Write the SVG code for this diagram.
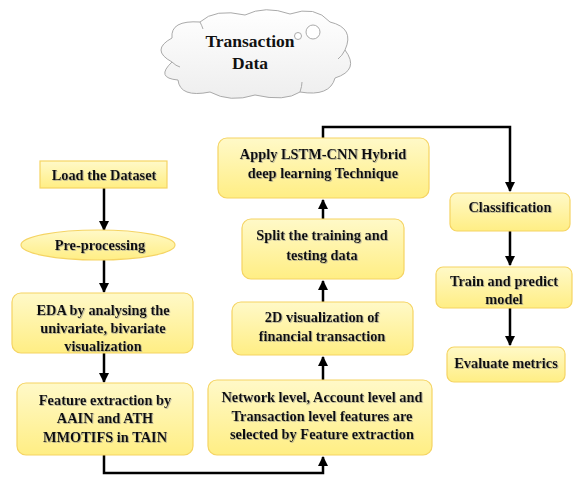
<svg xmlns="http://www.w3.org/2000/svg" width="573" height="477" viewBox="0 0 573 477">
<defs>
<linearGradient id="yg" x1="0" y1="0" x2="0" y2="1">
<stop offset="0" stop-color="#FFF9C8"/>
<stop offset="1" stop-color="#FFEE84"/>
</linearGradient>
<linearGradient id="cg" x1="0" y1="0" x2="0" y2="1">
<stop offset="0" stop-color="#FFFFFF"/>
<stop offset="1" stop-color="#EEEEEE"/>
</linearGradient>
<filter id="ts" x="-10%" y="-30%" width="120%" height="160%">
<feDropShadow dx="0.8" dy="0.8" stdDeviation="0.6" flood-color="#888888" flood-opacity="0.7"/>
</filter>
<marker id="ah" viewBox="0 0 10 10" refX="9" refY="5" markerWidth="4" markerHeight="4" orient="auto" markerUnits="strokeWidth">
<path d="M0,0 L10,5 L0,10 Z" fill="#000"/>
</marker>
</defs>
<style>
.box{fill:url(#yg);stroke:#F5D463;stroke-width:1.2}
.t{font-family:"Liberation Serif","Times New Roman",serif;font-weight:bold;font-size:14.4px;fill:#111;text-anchor:middle;filter:url(#ts)}
.ct{font-family:"Liberation Serif","Times New Roman",serif;font-weight:bold;font-size:17.5px;fill:#111;text-anchor:middle}
.c{fill:none;stroke:#000;stroke-width:2.5}
.cl{fill:none;stroke:#AAAAAA;stroke-width:1}
</style>

<g id="cloud">
<path d="M172,62 Q150,50 172,38 Q170,20 200,22 Q215,8 245,15 Q265,5 290,14 Q315,5 330,22 Q355,28 345,50 Q360,70 335,78 Q330,97 300,92 Q285,102 255,95 Q230,103 210,92 Q180,98 178,80 Q155,78 172,62 Z" fill="url(#cg)" stroke="#AAAAAA" stroke-width="1"/>
<path class="cl" d="M172,62 Q176,66 180,67"/>
<path class="cl" d="M200,22 Q202,26 203,29"/>
<path class="cl" d="M345,50 Q342,56 338,59"/>
<path class="cl" d="M300,92 Q302,86 302,82"/>
<circle cx="313" cy="32" r="7" fill="#FFFFFF" stroke="#AAAAAA" stroke-width="1"/>
<circle cx="298" cy="36" r="3.5" fill="#FFFFFF" stroke="#AAAAAA" stroke-width="1"/>
<text class="ct" x="250" y="47">Transaction</text>
<text class="ct" x="250" y="69">Data</text>
</g>

<g id="connectors">
<line class="c" x1="104" y1="188" x2="104" y2="230" marker-end="url(#ah)"/>
<line class="c" x1="104" y1="260" x2="104" y2="292" marker-end="url(#ah)"/>
<line class="c" x1="104" y1="353" x2="104" y2="382" marker-end="url(#ah)"/>
<polyline class="c" points="104,455 104,473 323,473 323,457" marker-end="url(#ah)"/>
<line class="c" x1="323" y1="380" x2="323" y2="357" marker-end="url(#ah)"/>
<line class="c" x1="323" y1="302" x2="323" y2="281" marker-end="url(#ah)"/>
<line class="c" x1="323" y1="219" x2="323" y2="200" marker-end="url(#ah)"/>
<polyline class="c" points="323,138 323,127 510,127 510,191" marker-end="url(#ah)"/>
<line class="c" x1="510" y1="231" x2="510" y2="265" marker-end="url(#ah)"/>
<line class="c" x1="510" y1="308" x2="510" y2="345" marker-end="url(#ah)"/>
</g>

<g id="load">
<rect class="box" x="40" y="161" width="127" height="27"/>
<text class="t" x="104" y="180">Load the Dataset</text>
</g>

<g id="preprocessing">
<ellipse class="box" cx="98" cy="245" rx="77" ry="15"/>
<text class="t" x="100" y="250">Pre-processing</text>
</g>

<g id="eda">
<rect class="box" x="12" y="293" width="181" height="60" rx="9"/>
<text class="t" x="103" y="315">EDA by analysing the</text>
<text class="t" x="103" y="333">univariate, bivariate</text>
<text class="t" x="103" y="351">visualization</text>
</g>

<g id="featext">
<rect class="box" x="17" y="383" width="176" height="72" rx="9"/>
<text class="t" x="105" y="405">Feature extraction  by</text>
<text class="t" x="105" y="423">AAIN and ATH</text>
<text class="t" x="105" y="442">MMOTIFS in TAIN</text>
</g>

<g id="network">
<rect class="box" x="208" y="380" width="224" height="75" rx="9"/>
<text class="t" x="322" y="402">Network level, Account level and</text>
<text class="t" x="322" y="421">Transaction  level features are</text>
<text class="t" x="322" y="439">selected by Feature extraction</text>
</g>

<g id="viz2d">
<rect class="box" x="232" y="302" width="181" height="53" rx="9"/>
<text class="t" x="322" y="322">2D visualization of</text>
<text class="t" x="322" y="341">financial transaction</text>
</g>

<g id="split">
<rect class="box" x="242" y="219" width="162" height="60" rx="9"/>
<text class="t" x="322" y="240">Split the training and</text>
<text class="t" x="322" y="260">testing data</text>
</g>

<g id="apply">
<rect class="box" x="218" y="138" width="211" height="60" rx="9"/>
<text class="t" x="323" y="159">Apply LSTM-CNN Hybrid</text>
<text class="t" x="323" y="178">deep learning Technique</text>
</g>

<g id="classification">
<rect class="box" x="450" y="193" width="120" height="38" rx="7"/>
<text class="t" x="510" y="212">Classification</text>
</g>

<g id="train">
<rect class="box" x="436" y="267" width="136" height="41" rx="7"/>
<text class="t" x="504" y="286">Train and predict</text>
<text class="t" x="504" y="304">model</text>
</g>

<g id="evaluate">
<rect class="box" x="447" y="347" width="118" height="35" rx="7"/>
<text class="t" x="506" y="368">Evaluate metrics</text>
</g>
</svg>
